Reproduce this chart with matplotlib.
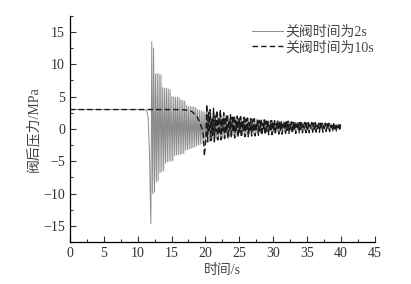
import matplotlib
matplotlib.use("Agg")
import matplotlib.pyplot as plt
from matplotlib.ticker import MultipleLocator
import numpy as np

plt.rcParams['font.family'] = ['Liberation Serif', 'Noto Sans CJK SC']
plt.rcParams['axes.unicode_minus'] = True

# ---- valve closing time 2 s ----
# steady part before the water hammer
t2_pre = [0.0, 10.8, 11.3, 11.55, 11.75]
p2_pre = [3.0, 3.0, 2.9, 1.8, -4.0]
# one trough and one peak per wave cycle, period
period_2s = 0.27
t2_start = 11.95
trough_2s = [-14.7, -10.0, -9.8, -8.2, -8.0, -6.8, -6.6, -6.5, -5.3, -5.1,
             -5.0, -5.0, -4.9, -4.2, -4.0, -4.0, -3.9, -3.9, -3.8, -3.3,
             -3.2, -3.1, -3.0, -2.9, -2.8, -2.6, -2.5, -2.4, -2.3,
             -2.2, -2.0, -1.9, -1.9, -1.8, -1.7, -1.7, -1.6, -1.5, -1.5,
             -1.4, -1.4, -1.3, -1.3, -1.2, -1.2, -1.1, -1.1, -1.0, -1.0,
             -1.0, -0.9, -0.9, -0.9, -0.8, -0.8, -0.8, -0.7, -0.7, -0.7,
             -0.7, -0.6, -0.6, -0.6, -0.6, -0.5, -0.5, -0.5, -0.5, -0.5,
             -0.4, -0.4, -0.4, -0.4, -0.4, -0.3, -0.3, -0.3, -0.3, -0.3,
             -0.3, -0.2, -0.2, -0.2, -0.2, -0.2, -0.2, -0.2, -0.1, -0.1,
             -0.1, -0.1, -0.1, -0.1, -0.1, -0.1, -0.1, -0.1, -0.1, -0.1,
             0.0, 0.0, 0.0, 0.0]
peak_2s = [13.5, 12.5, 8.5, 8.6, 8.5, 8.4, 6.4, 6.3, 6.3, 6.2,
           6.1, 5.0, 5.0, 4.9, 4.9, 4.8, 4.5, 4.4, 4.3, 3.6,
           3.5, 3.5, 3.4, 3.4, 3.3, 3.0, 2.9, 2.8, 2.7,
           2.6, 2.6, 2.5, 2.5, 2.4, 2.4, 2.3, 2.3, 2.2, 2.2,
           2.1, 2.1, 2.0, 2.0, 1.9, 1.9, 1.9, 1.8, 1.8, 1.8,
           1.7, 1.7, 1.7, 1.6, 1.6, 1.6, 1.5, 1.5, 1.5, 1.5,
           1.4, 1.4, 1.4, 1.4, 1.3, 1.3, 1.3, 1.3, 1.2, 1.2,
           1.2, 1.2, 1.2, 1.1, 1.1, 1.1, 1.1, 1.1, 1.0, 1.0,
           1.0, 1.0, 1.0, 1.0, 0.9, 0.9, 0.9, 0.9, 0.9, 0.9,
           0.9, 0.8, 0.8, 0.8, 0.8, 0.8, 0.8, 0.8, 0.8, 0.8,
           0.7, 0.7, 0.7, 0.7]

# ---- valve closing time 10 s ----
t10_pre = [0.0, 15.5, 17.0, 18.0, 18.7, 19.2, 19.5, 19.7, 19.85]
p10_pre = [3.0, 3.0, 2.95, 2.7, 2.0, 1.0, 0.0, -1.0, -4.2]
period_10s = 0.25
t10_start = 20.075
trough_10s = [-1.5, -2.0, -0.5, -1.8,
              -1.0, -2.0, -0.4, -1.7,
              -0.8, -1.7, -0.3, -1.5,
              -0.6, -1.5, -0.3, -1.4,
              -0.5, -1.4, -0.2, -1.3,
              -0.5, -1.3, -0.2, -1.2,
              -0.4, -1.2, -0.2, -1.1,
              -0.4, -1.1, -0.1, -1.0,
              -0.3, -1.0, -0.1, -0.9,
              -0.3, -0.9, -0.1, -0.9,
              -0.3, -0.9, 0.0, -0.8,
              -0.2, -0.8, 0.0, -0.7,
              -0.2, -0.7, 0.0, -0.7,
              -0.2, -0.7, 0.0, -0.6,
              -0.1, -0.6, 0.1, -0.6,
              -0.1, -0.6, 0.1, -0.5,
              -0.1, -0.5, 0.1, -0.5,
              0.0, -0.5, 0.1, -0.4,
              0.0, -0.4, 0.2, -0.4,
              0.0, -0.3, 0.2, -0.3]
peak_10s = [3.8, 2.6, 3.0, 1.5,
            3.2, 2.0, 2.9, 1.8,
            3.0, 1.6, 2.5, 1.9,
            2.3, 1.4, 2.2, 1.8,
            2.1, 1.3, 2.0, 1.7,
            1.9, 1.1, 1.8, 1.5,
            1.7, 1.0, 1.6, 1.4,
            1.6, 0.9, 1.5, 1.3,
            1.5, 0.9, 1.4, 1.2,
            1.4, 0.8, 1.3, 1.2,
            1.3, 0.8, 1.3, 1.1,
            1.2, 0.7, 1.2, 1.1,
            1.2, 0.7, 1.1, 1.0,
            1.1, 0.7, 1.1, 1.0,
            1.1, 0.6, 1.0, 0.9,
            1.0, 0.6, 1.0, 0.9,
            1.0, 0.6, 0.9, 0.9,
            0.9, 0.5, 0.9, 0.8,
            0.9, 0.5, 0.8, 0.8,
            0.8, 0.5, 0.8, 0.7]


def wave(t_pre, p_pre, start, period, troughs, peaks):
    # alternate trough / peak along the cycle times
    t = list(t_pre)
    p = list(p_pre)
    for i, (lo, hi) in enumerate(zip(troughs, peaks)):
        t0 = start + i * period
        t += [t0, t0 + period / 2]
        p += [lo, hi]
    return np.array(t), np.array(p)


t2, p2 = wave(t2_pre, p2_pre, t2_start, period_2s, trough_2s, peak_2s)
t10, p10 = wave(t10_pre, p10_pre, t10_start, period_10s, trough_10s, peak_10s)

fig = plt.figure(figsize=(4.11, 2.84), dpi=100)
ax = fig.add_axes([0.170, 0.148, 0.742, 0.796])

ax.plot(t2, p2, color='#8c8c8c', linewidth=0.7, label='关阀时间为2s')
ax.plot(t10, p10, color='#1a1a1a', linewidth=1.0, linestyle=(0, (4, 2.2)),
        label='关阀时间为10s')

ax.set_xlim(0, 45)
ax.set_ylim(-17.5, 17.5)
ax.xaxis.set_major_locator(MultipleLocator(5))
ax.xaxis.set_minor_locator(MultipleLocator(2.5))
ax.yaxis.set_major_locator(MultipleLocator(5))
ax.yaxis.set_minor_locator(MultipleLocator(2.5))
ax.tick_params(which='both', direction='in', labelsize=10, colors='#333333')
ax.tick_params(which='major', length=4, width=0.8)
ax.tick_params(which='minor', length=2, width=0.8)
for s in ['top', 'right']:
    ax.spines[s].set_visible(False)
for s in ['left', 'bottom']:
    ax.spines[s].set_linewidth(0.9)

ax.set_xlabel('时间/s', fontsize=10, color='#444444', labelpad=3)
ax.set_ylabel('阀后压力/MPa', fontsize=10, color='#444444', labelpad=2)

leg = ax.legend(loc='upper right', bbox_to_anchor=(1.03, 1.0), frameon=False,
                fontsize=10, handlelength=2.2, handletextpad=0.2,
                labelspacing=0.15, borderaxespad=0.3)
for txt in leg.get_texts():
    txt.set_color('#444444')

fig.savefig('out.png', dpi=100)
